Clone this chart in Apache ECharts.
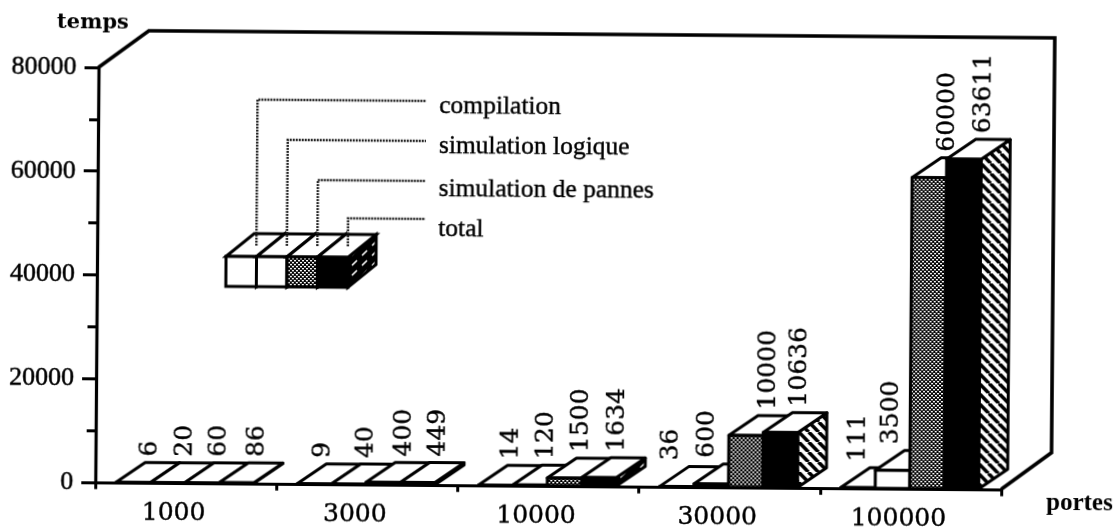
<!DOCTYPE html>
<html><head><meta charset="utf-8">
<script src="https://cdn.jsdelivr.net/npm/echarts@6/dist/echarts.min.js"></script>
<style>html,body{margin:0;padding:0;background:#fff;overflow:hidden}
#c{width:1118px;height:529px;transform:rotate(0.45deg);transform-origin:50% 50%}</style>
</head><body><div id="c"></div>
<script>
const categories = ['1000','3000','10000','30000','100000'];
const compilation = [6,9,14,36,111];
const simulationLogique = [20,40,120,600,3500];
const simulationPannes = [60,400,1500,10000,60000];
const total = [86,449,1634,10636,63611];
const seriesNames = ['compilation','simulation logique','simulation de pannes','total'];
const seriesValues = [compilation,simulationLogique,simulationPannes,total];
const yTickLabels = [0,20000,40000,60000,80000];
// horizontal nudge of each value label from its bar centre (layout only)
const labelNudge = [[17,8,15,-6,0],[17,17,16,-4,-2],[17,20,16,22,18],[20,20,18,19,19]];

function pat(size,draw){const c=document.createElement('canvas');c.width=c.height=size;const x=c.getContext('2d');draw(x,size);return {image:c,repeat:'repeat'};}
const dots = pat(4,(x)=>{x.fillStyle='#000';x.fillRect(0,0,4,4);x.fillStyle='#fff';x.fillRect(0,0,2,1.4);x.fillRect(2,2,2,1.4);});
const hatch = pat(10,(x,s)=>{x.fillStyle='#fff';x.fillRect(0,0,s,s);x.strokeStyle='#000';x.lineWidth=3.6;
  [-s,0,s].forEach(o=>{x.beginPath();x.moveTo(o,0);x.lineTo(o+s,s);x.stroke();});});
const hatchDark = pat(10,(x,s)=>{x.fillStyle='#000';x.fillRect(0,0,s,s);x.strokeStyle='#fff';x.lineWidth=1.6;x.beginPath();x.moveTo(2,7);x.lineTo(7,2);x.stroke();});
const fronts = ['#fff','#fff',dots,'#000'];
const BAR = 0.19, DX = 29, DY = -20, WX = 50, WY = -37;
const SERIF = 'Liberation Serif', WIDE = 'DejaVu Serif';

function barSeries(name,idx){
  return {type:'custom',name,z:3,data:seriesValues[idx].map((v,i)=>[i,v]),encode:{x:0,y:1},
    renderItem(params,api){
      const cat=api.value(0),val=api.value(1),base=api.coord([cat,0]),top=api.coord([cat,val]);
      const w=api.size([1,0])[0]*BAR,x0=base[0]-2*w-1+idx*w,x1=x0+w,yb=base[1],yt=top[1];
      const ln={stroke:'#000',lineWidth:3,lineJoin:'round'};
      return {type:'group',children:[
        {type:'polygon',shape:{points:[[x1,yt],[x1+DX,yt+DY],[x1+DX,yb+DY],[x1,yb]]},style:{fill:(yb-yt)<30?hatchDark:hatch,...ln}},
        {type:'polygon',shape:{points:[[x0,yt],[x0+DX,yt+DY],[x1+DX,yt+DY],[x1,yt]]},style:{fill:'#fff',...ln}},
        {type:'rect',shape:{x:x0,y:yt,width:w,height:yb-yt},style:{fill:fronts[idx],...ln}},
        {type:'text',x:x0+w/2+labelNudge[idx][cat],y:yt+DY-6,rotation:Math.PI/2,z2:20,
          style:{text:String(val),fill:'#000',stroke:'#000',lineWidth:0.4,font:'25px "'+WIDE+'"',align:'left',verticalAlign:'middle'}}
      ]};
    }};
}
const frameSeries = {type:'custom',name:'cadre',z:1,silent:true,data:[[0,0]],encode:{x:0,y:1},
  renderItem(params,api){
    const n=categories.length,band=api.size([1,0])[0];
    const a=api.coord([0,80000]),b=api.coord([n-1,0]);
    const l=a[0]-band/2,t=a[1],r=b[0]+band/2,bt=b[1];
    return {type:'polyline',shape:{points:[[l,t],[l+WX,t+WY],[r+WX,t+WY],[r+WX,bt+WY],[r,bt]]},
      style:{fill:'none',stroke:'#000',lineWidth:3.6,lineJoin:'miter'}};
  }};

const LX=226,LY=259,LW=30.5,LH=30,LDX=28,LDY=-23;
const leaderY=[102,142,182,220], textY=[107,147,190,230];
const graphic=[];
seriesNames.forEach((nm,i)=>{
  const x=LX+i*LW;
  graphic.push({type:'polygon',z:5,shape:{points:[[x+LW,LY],[x+LW+LDX,LY+LDY],[x+LW+LDX,LY+LH+LDY],[x+LW,LY+LH]]},style:{fill:i===3?hatchDark:'#fff',stroke:'#000',lineWidth:3}});
  graphic.push({type:'polygon',z:5,shape:{points:[[x,LY],[x+LDX,LY+LDY],[x+LW+LDX,LY+LDY],[x+LW,LY]]},style:{fill:'#fff',stroke:'#000',lineWidth:3}});
  graphic.push({type:'rect',z:5,shape:{x,y:LY,width:LW,height:LH},style:{fill:fronts[i],stroke:'#000',lineWidth:3}});
});
seriesNames.forEach((nm,i)=>{
  const x=LX+i*LW+LW/2+15, y=leaderY[i];
  graphic.push({type:'polyline',z:7,shape:{points:[[x,LY-11],[x,y],[425,y]]},style:{fill:'none',stroke:'#222',lineWidth:2.4,lineDash:[2,1]}});
  graphic.push({type:'text',z:7,x:438,y:textY[i],style:{text:nm,fill:'#000',stroke:'#000',lineWidth:0.4,font:'25.5px "'+SERIF+'"',verticalAlign:'middle',align:'left'}});
});

const chart=echarts.init(document.getElementById('c'),null,{renderer:'canvas'});
chart.setOption({
  animation:false,backgroundColor:'#fff',
  grid:{left:97,top:71,width:906,height:416,containLabel:false},
  xAxis:{type:'category',data:categories,boundaryGap:true,
    axisLine:{lineStyle:{color:'#000',width:3}},
    axisTick:{show:true,alignWithLabel:false,length:7,lineStyle:{color:'#000',width:3}},
    axisLabel:{color:'#000',fontFamily:WIDE,fontSize:25,margin:18,padding:[0,24,0,0],interval:0,textBorderColor:'#000',textBorderWidth:0.4},
    name:'portes',nameLocation:'end',nameGap:45,
    nameTextStyle:{color:'#000',fontFamily:SERIF,fontWeight:'bold',fontSize:25,align:'left',verticalAlign:'top',padding:[1,0,0,0]}},
  yAxis:{type:'value',min:0,max:80000,interval:20000,
    axisLine:{show:true,lineStyle:{color:'#000',width:3.2}},
    axisTick:{show:true,length:14,lineStyle:{color:'#000',width:3}},
    minorTick:{show:true,splitNumber:2,length:9,lineStyle:{color:'#000',width:3}},
    splitLine:{show:false},minorSplitLine:{show:false},
    axisLabel:{color:'#000',fontFamily:SERIF,fontSize:26,margin:22,textBorderColor:'#000',textBorderWidth:0.5,
      formatter:v=>yTickLabels.includes(v)?String(v):''},
    name:'temps',nameLocation:'end',nameGap:44,
    nameTextStyle:{color:'#000',fontFamily:WIDE,fontWeight:'bold',fontSize:21,align:'center',verticalAlign:'middle',padding:[0,12,0,0]}},
  tooltip:{show:false},legend:{show:false},
  series:[frameSeries].concat(seriesNames.map(barSeries)),
  graphic
});
</script></body></html>
